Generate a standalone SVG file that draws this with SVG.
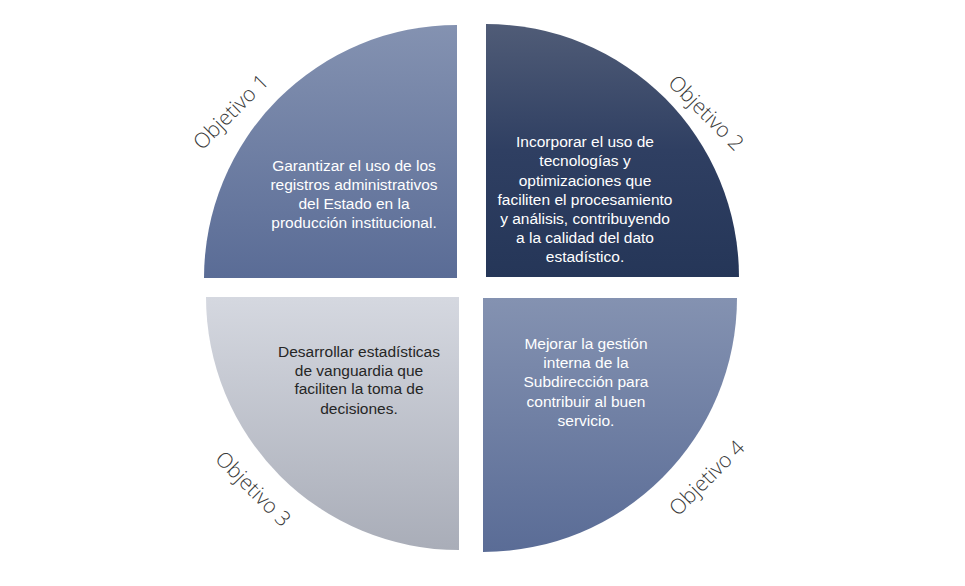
<svg xmlns="http://www.w3.org/2000/svg" width="965" height="586" viewBox="0 0 965 586">
<defs>
<linearGradient id="gMid" x1="0" y1="0" x2="0" y2="1">
<stop offset="0" stop-color="#8492b1"/>
<stop offset="1" stop-color="#5a6c96"/>
</linearGradient>
<linearGradient id="gDark" x1="0" y1="0" x2="0" y2="1">
<stop offset="0" stop-color="#505c77"/>
<stop offset="0.5" stop-color="#2f3f62"/>
<stop offset="1" stop-color="#253658"/>
</linearGradient>
<linearGradient id="gLight" x1="0" y1="0" x2="0" y2="1">
<stop offset="0" stop-color="#d5d8e0"/>
<stop offset="1" stop-color="#a9adb8"/>
</linearGradient>
</defs>
<style>
.body{font-family:"Liberation Sans",Arial,sans-serif;font-size:15.5px;text-anchor:middle}
.w{fill:#ffffff}
.d{fill:#262626}
.lab{font-family:"Open Sans","DejaVu Sans",sans-serif;font-weight:300;font-size:21px;fill:#3a3a3a;text-anchor:middle}
</style>
<rect width="965" height="586" fill="#ffffff"/>
<g id="objetivo1">
<path d="M457,278 L204,278 A253,253 0 0 1 457,25 Z" fill="url(#gMid)"/>
<text class="body w"><tspan x="354" y="171">Garantizar el uso de los</tspan><tspan x="354" y="190">registros administrativos</tspan><tspan x="354" y="209">del Estado en la</tspan><tspan x="354" y="228">producción institucional.</tspan></text>
<text class="lab" transform="translate(231,112) rotate(-45)" x="0" y="7">Objetivo 1</text>
</g>
<g id="objetivo2">
<path d="M486,277 L486,24 A253,253 0 0 1 739,277 Z" fill="url(#gDark)"/>
<text class="body w"><tspan x="585" y="147">Incorporar el uso de</tspan><tspan x="585" y="166">tecnologías y</tspan><tspan x="585" y="185.5">optimizaciones que</tspan><tspan x="585" y="205">faciliten el procesamiento</tspan><tspan x="585" y="224">y análisis, contribuyendo</tspan><tspan x="585" y="243">a la calidad del dato</tspan><tspan x="585" y="262">estadístico.</tspan></text>
<text class="lab" transform="translate(706,113) rotate(45)" x="0" y="7">Objetivo 2</text>
</g>
<g id="objetivo3">
<path d="M459,297 L459,550 A253,253 0 0 1 206,297 Z" fill="url(#gLight)"/>
<text class="body d"><tspan x="359" y="357">Desarrollar estadísticas</tspan><tspan x="359" y="375.5">de vanguardia que</tspan><tspan x="359" y="394">faciliten la toma de</tspan><tspan x="359" y="413.5">decisiones.</tspan></text>
<text class="lab" transform="translate(253,489) rotate(45)" x="0" y="7">Objetivo 3</text>
</g>
<g id="objetivo4">
<path d="M483,298 L737,298 A254,254 0 0 1 483,552 Z" fill="url(#gMid)"/>
<text class="body w"><tspan x="586" y="349">Mejorar la gestión</tspan><tspan x="586" y="368">interna de la</tspan><tspan x="586" y="387">Subdirección para</tspan><tspan x="586" y="406.5">contribuir al buen</tspan><tspan x="586" y="425.5">servicio.</tspan></text>
<text class="lab" transform="translate(707,478) rotate(-45)" x="0" y="7">Objetivo 4</text>
</g>
<g id="connectors"/>
</svg>
